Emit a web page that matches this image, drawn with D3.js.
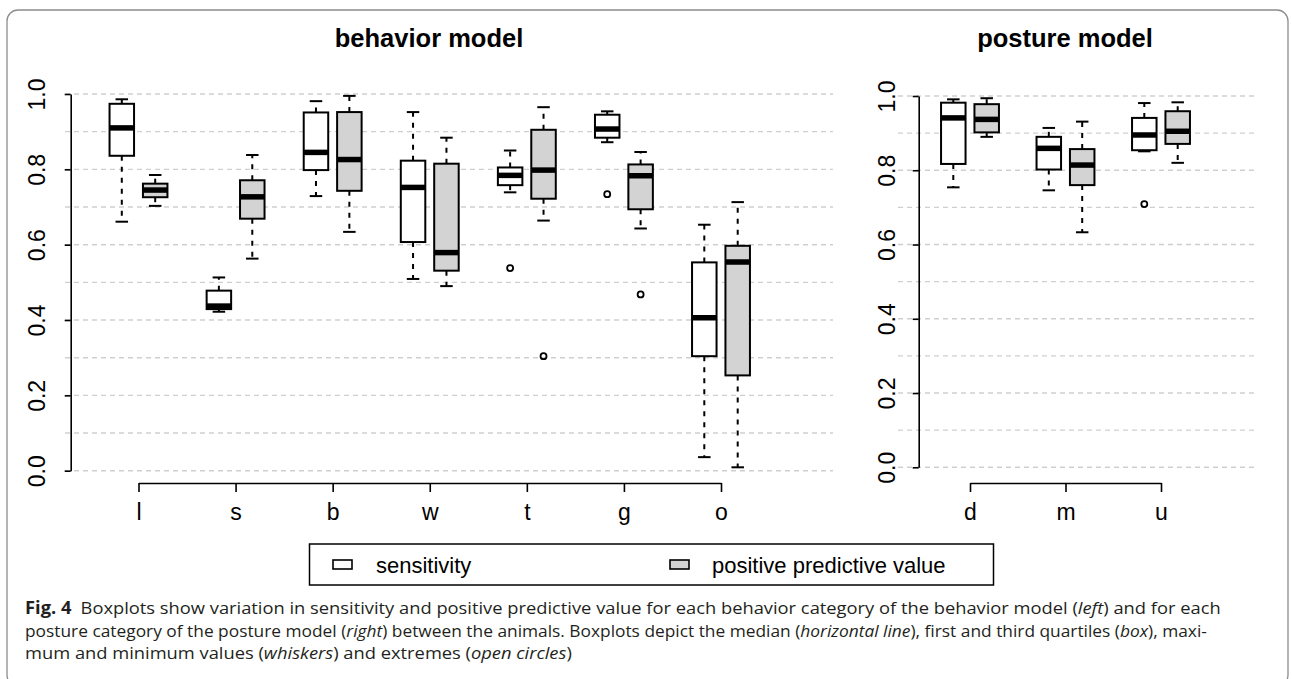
<!DOCTYPE html>
<html>
<head>
<meta charset="utf-8">
<script src="https://cdn.jsdelivr.net/npm/d3@7"></script>
<style>
  html, body { margin: 0; padding: 0; background: #fff; }
  svg { display: block; }
</style>
</head>
<body>
<svg id="fig" width="1292" height="679"></svg>
<script>
// Five-number summaries: [min, q1, median, q3, max]
const behaviorCats = ["l", "s", "b", "w", "t", "g", "o"];
const behaviorSens = [
  [0.661, 0.836, 0.910, 0.974, 0.986],
  [0.422, 0.429, 0.437, 0.478, 0.513],
  [0.729, 0.798, 0.845, 0.951, 0.981],
  [0.509, 0.607, 0.752, 0.823, 0.952],
  [0.739, 0.758, 0.784, 0.805, 0.850],
  [0.872, 0.884, 0.907, 0.945, 0.954],
  [0.036, 0.304, 0.406, 0.553, 0.653]
];
const behaviorPpv = [
  [0.703, 0.726, 0.745, 0.762, 0.785],
  [0.563, 0.669, 0.727, 0.771, 0.838],
  [0.634, 0.743, 0.826, 0.952, 0.995],
  [0.490, 0.531, 0.579, 0.815, 0.884],
  [0.664, 0.722, 0.798, 0.905, 0.965],
  [0.643, 0.694, 0.783, 0.813, 0.846],
  [0.009, 0.253, 0.554, 0.597, 0.713]
];
// Extreme values as [category, series, value]
const behaviorOutliers = [
  ["t", "sens", 0.538],
  ["t", "ppv", 0.304],
  ["g", "sens", 0.734],
  ["g", "ppv", 0.468]
];

const postureCats = ["d", "m", "u"];
const postureSens = [
  [0.754, 0.817, 0.941, 0.982, 0.991],
  [0.746, 0.802, 0.859, 0.890, 0.914],
  [0.851, 0.854, 0.895, 0.941, 0.981]
];
const posturePpv = [
  [0.890, 0.902, 0.937, 0.978, 0.994],
  [0.633, 0.760, 0.814, 0.857, 0.931],
  [0.820, 0.871, 0.905, 0.959, 0.983]
];
const postureOutliers = [
  ["u", "sens", 0.709]
];

const yTicks = [0, 0.2, 0.4, 0.6, 0.8, 1.0];
const gridValues = d3.range(0, 11).map(i => i / 10);
const seriesKeys = ["sens", "ppv"];
const seriesFill = { sens: "#ffffff", ppv: "#d3d3d3" };
const legendLabels = ["sensitivity", "positive predictive value"];

const svg = d3.select("#fig");
const FONT = "'Liberation Sans', Arial, Helvetica, sans-serif";

// Outer rounded frame around figure and caption
svg.append("rect")
  .attr("x", 7).attr("y", 10).attr("width", 1281).attr("height", 676)
  .attr("rx", 11).attr("fill", "none")
  .attr("stroke", "#8c8c8c").attr("stroke-width", 1.3);

function drawPanel(opts) {
  const { cats, sens, ppv, outliers, xRange, yRange, gridX, axisX, labelX, title, titleX } = opts;
  const g = svg.append("g");
  const x = d3.scalePoint().domain(cats).range(xRange);
  const inner = d3.scalePoint().domain(seriesKeys).range([-16.7, 16.7]);
  const y = d3.scaleLinear().domain([0, 1]).range(yRange);
  const boxW = 24.5, capW = 12.5;

  // dashed horizontal reference lines
  g.append("g").selectAll("line").data(gridValues).join("line")
    .attr("x1", gridX[0]).attr("x2", gridX[1])
    .attr("y1", d => y(d)).attr("y2", d => y(d))
    .attr("stroke", "#cfcfcf").attr("stroke-width", 1.4)
    .attr("stroke-dasharray", "5,4");

  // y axis
  const ya = g.append("g").attr("transform", `translate(${axisX},0)`)
    .call(d3.axisLeft(y).tickValues(yTicks).tickSize(6).tickSizeOuter(0).tickFormat(d3.format(".1f")));
  ya.select(".domain").attr("stroke", "#000").attr("stroke-width", 1.6);
  ya.selectAll(".tick line").attr("stroke", "#000").attr("stroke-width", 1.6);
  ya.selectAll(".tick text")
    .attr("font-family", FONT).attr("font-size", 23).attr("fill", "#000")
    .attr("x", null).attr("dy", null)
    .attr("text-anchor", "middle")
    .attr("transform", `translate(${labelX - axisX},0) rotate(-90)`);

  // x axis
  const xa = g.append("g").attr("transform", `translate(0,483)`)
    .call(d3.axisBottom(x).tickSize(9).tickSizeOuter(0));
  xa.select(".domain").attr("stroke", "#000").attr("stroke-width", 1.6);
  xa.selectAll(".tick line").attr("stroke", "#000").attr("stroke-width", 1.6);
  xa.selectAll(".tick text")
    .attr("font-family", FONT).attr("font-size", 23).attr("fill", "#000")
    .attr("dy", null).attr("y", 37);

  // boxes
  const rows = [];
  cats.forEach((c, i) => {
    rows.push({ cat: c, key: "sens", v: sens[i] });
    rows.push({ cat: c, key: "ppv", v: ppv[i] });
  });
  const bx = g.append("g").selectAll("g").data(rows).join("g")
    .attr("transform", d => `translate(${x(d.cat) + inner(d.key)},0)`);

  // whiskers
  bx.append("line").attr("x1", 0).attr("x2", 0)
    .attr("y1", d => y(d.v[3])).attr("y2", d => y(d.v[4]))
    .attr("stroke", "#000").attr("stroke-width", 2).attr("stroke-dasharray", "5,6");
  bx.append("line").attr("x1", 0).attr("x2", 0)
    .attr("y1", d => y(d.v[1])).attr("y2", d => y(d.v[0]))
    .attr("stroke", "#000").attr("stroke-width", 2).attr("stroke-dasharray", "5,6");
  // staples
  bx.append("line").attr("x1", -capW / 2).attr("x2", capW / 2)
    .attr("y1", d => y(d.v[4])).attr("y2", d => y(d.v[4]))
    .attr("stroke", "#000").attr("stroke-width", 2);
  bx.append("line").attr("x1", -capW / 2).attr("x2", capW / 2)
    .attr("y1", d => y(d.v[0])).attr("y2", d => y(d.v[0]))
    .attr("stroke", "#000").attr("stroke-width", 2);
  // box
  bx.append("rect")
    .attr("x", -boxW / 2).attr("width", boxW)
    .attr("y", d => y(d.v[3])).attr("height", d => y(d.v[1]) - y(d.v[3]))
    .attr("fill", d => seriesFill[d.key])
    .attr("stroke", "#000").attr("stroke-width", 2);
  // median
  bx.append("line").attr("x1", -boxW / 2).attr("x2", boxW / 2)
    .attr("y1", d => y(d.v[2])).attr("y2", d => y(d.v[2]))
    .attr("stroke", "#000").attr("stroke-width", 5.5);

  // extremes
  g.append("g").selectAll("circle").data(outliers).join("circle")
    .attr("cx", d => x(d[0]) + inner(d[1]))
    .attr("cy", d => y(d[2]))
    .attr("r", 3).attr("fill", "none")
    .attr("stroke", "#000").attr("stroke-width", 1.8);

  // panel title
  svg.append("text")
    .attr("x", titleX).attr("y", 47)
    .attr("text-anchor", "middle")
    .attr("font-family", FONT).attr("font-weight", "bold").attr("font-size", 25.5)
    .text(title);
}

drawPanel({
  cats: behaviorCats, sens: behaviorSens, ppv: behaviorPpv, outliers: behaviorOutliers,
  xRange: [138.5, 721], yRange: [470.7, 94], gridX: [65, 833],
  axisX: 70.7, labelX: 45, title: "behavior model", titleX: 429
});
drawPanel({
  cats: postureCats, sens: postureSens, ppv: posturePpv, outliers: postureOutliers,
  xRange: [970, 1161], yRange: [467.3, 96], gridX: [898, 1257],
  axisX: 918.7, labelX: 895, title: "posture model", titleX: 1065
});

// legend
const lg = svg.append("g");
lg.append("rect").attr("x", 309.5).attr("y", 544).attr("width", 684).attr("height", 41)
  .attr("fill", "#fff").attr("stroke", "#000").attr("stroke-width", 1.5);
const legendItems = [
  { key: "sens", label: legendLabels[0], sx: 333, tx: 376 },
  { key: "ppv", label: legendLabels[1], sx: 670, tx: 712 }
];
lg.selectAll("rect.sw").data(legendItems).join("rect").attr("class", "sw")
  .attr("x", d => d.sx).attr("y", 560).attr("width", 19).attr("height", 9)
  .attr("fill", d => seriesFill[d.key]).attr("stroke", "#000").attr("stroke-width", 1.6);
lg.selectAll("text").data(legendItems).join("text")
  .attr("x", d => d.tx).attr("y", 573)
  .attr("font-family", FONT).attr("font-size", 22)
  .text(d => d.label);

// caption
const CAP_FONT = "'Open Sans', 'Noto Sans', sans-serif";
const captionLines = [
  [["b", "Fig. 4"], ["r", "\u2002Boxplots show variation in sensitivity and positive predictive value for each behavior category of the behavior model ("], ["i", "left"], ["r", ") and for each"]],
  [["r", "posture category of the posture model ("], ["i", "right"], ["r", ") between the animals. Boxplots depict the median ("], ["i", "horizontal line"], ["r", "), first and third quartiles ("], ["i", "box"], ["r", "), maxi-"]],
  [["r", "mum and minimum values ("], ["i", "whiskers"], ["r", ") and extremes ("], ["i", "open circles"], ["r", ")"]]
];
const captionWidths = [1197, 1183, null];
const captionY = [614, 637, 659];
const capNodes = captionLines.map((parts, i) => {
  const t = svg.append("text")
    .attr("x", 0).attr("y", 0)
    .attr("font-family", CAP_FONT).attr("font-size", 17).attr("fill", "#231f20");
  parts.forEach(([s, str]) => {
    const ts = t.append("tspan").text(str);
    if (s === "b") ts.attr("font-weight", "bold");
    if (s === "i") ts.attr("font-style", "italic");
  });
  return t;
});
let firstScale = 1;
capNodes.forEach((t, i) => {
  const w = t.node().getComputedTextLength();
  const sc = captionWidths[i] ? captionWidths[i] / w : firstScale;
  if (i === 0) firstScale = sc;
  t.attr("transform", `translate(25,${captionY[i]}) scale(${sc},1)`);
});
</script>
</body>
</html>
